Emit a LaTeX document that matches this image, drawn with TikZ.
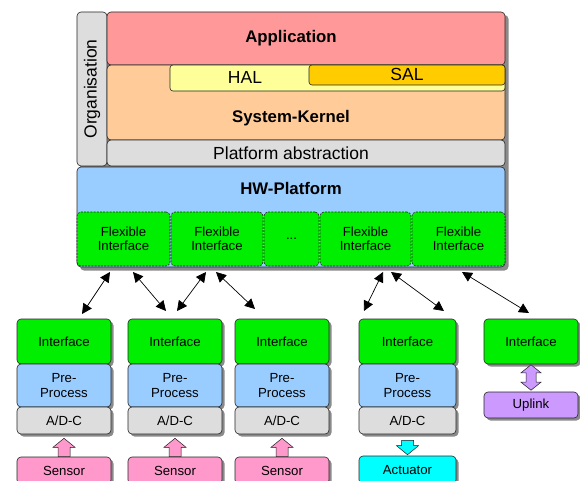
\documentclass[tikz,border=0pt]{standalone}
\usepackage{fontspec}
\setmainfont{Liberation Sans}
\usetikzlibrary{arrows.meta,calc,shadows}

\definecolor{appred}{HTML}{FF9999}
\definecolor{kernpeach}{HTML}{FFCC99}
\definecolor{halyellow}{HTML}{FFFF99}
\definecolor{salgold}{HTML}{FFCC00}
\definecolor{absgray}{HTML}{DDDDDD}
\definecolor{hwblue}{HTML}{99CCFF}
\definecolor{ifgreen}{HTML}{00EE00}
\definecolor{sensorpink}{HTML}{FF99CC}
\definecolor{actcyan}{HTML}{00FFFF}
\definecolor{uplinkviolet}{HTML}{CC99FF}
\definecolor{shadowgray}{HTML}{8A8A8A}

\newcommand\smallfont{\fontsize{13.2}{14.3}\selectfont}
\newcommand\midfont{\fontsize{17.5}{20}\selectfont}
\newcommand\bigfont{\fontsize{16.8}{20}\selectfont\bfseries}

% box node spanning (x1,y1)-(x2,y2): name, style, x1, y1, x2, y2, text
\newcommand\boxnode[7]{%
  \node[#2, minimum width={#5-#3}, minimum height={#6-#4}]
    (#1) at ({(#3+#5)/2},{(#4+#6)/2}) {#7};}

% hollow block arrow from tail to tip
\newcommand\fatarrow[3]{%
  \path[#1] let \p1=(#2), \p2=(#3), \n1={sign(\y2-\y1)} in
    ({\x1-6pt},\y1) -- ({\x2-6pt},{\y2-\n1*9pt}) -- ({\x2-11pt},{\y2-\n1*9pt})
    -- (\x2,\y2) -- ({\x2+11pt},{\y2-\n1*9pt}) -- ({\x2+6pt},{\y2-\n1*9pt})
    -- ({\x1+6pt},\y1) -- cycle;}

% hollow block arrow with a head at both ends
\newcommand\fatdouble[3]{%
  \path[#1] let \p1=(#2), \p2=(#3), \n1={sign(\y2-\y1)} in
    (\x1,\y1) -- ({\x1+10pt},{\y1+\n1*8pt}) -- ({\x1+5pt},{\y1+\n1*8pt})
    -- ({\x2+5pt},{\y2-\n1*8pt}) -- ({\x2+10pt},{\y2-\n1*8pt}) -- (\x2,\y2)
    -- ({\x2-10pt},{\y2-\n1*8pt}) -- ({\x2-5pt},{\y2-\n1*8pt})
    -- ({\x1-5pt},{\y1+\n1*8pt}) -- ({\x1-10pt},{\y1+\n1*8pt}) -- cycle;}

\tikzset{
  blk/.style={draw=black!85, line width=0.6pt, rounded corners=4pt, inner sep=0pt},
  flexbox/.style={blk, fill=ifgreen, dash pattern=on 2pt off 1.2pt,
    align=center, font=\smallfont},
  modbox/.style={blk, align=center, font=\smallfont,
    drop shadow={shadow xshift=2.5pt, shadow yshift=-2.5pt, fill=shadowgray, opacity=1}},
  link/.style={line width=0.7pt,
    {Triangle[length=10pt,width=10pt]}-{Triangle[length=10pt,width=10pt]}},
  fatshade/.style={fill=black!55, draw=none},
}

\begin{document}
\begin{tikzpicture}[x=1pt,y=-1pt]
\clip (0,0) rectangle (580,481);

% ---------- layered architecture ----------
\fill[shadowgray, rounded corners=4pt] (80,15) rectangle (508.5,270.5);
\boxnode{org}{blk,fill=absgray}{77}{12}{107}{166}{}
\boxnode{app}{blk,fill=appred}{107}{12}{505}{65}{}
\boxnode{kern}{blk,fill=kernpeach}{107}{65}{505}{140}{}
\boxnode{hal}{blk,fill=halyellow,rounded corners=3pt}{170}{65}{505}{91}{}
\boxnode{sal}{blk,fill=salgold,rounded corners=3pt}{309}{65}{505}{85}{}
\boxnode{plat}{blk,fill=absgray}{107}{140}{505}{166}{}
\boxnode{hw}{blk,fill=hwblue}{77}{167}{505}{267}{}

\node[font=\midfont, rotate=90] (orgt) at (92,89) {Organisation};
\node[font=\bigfont] (appt) at (291,38) {Application};
\node[font=\midfont] (halt) at (245,77) {HAL};
\node[font=\midfont] (salt) at (407,74) {SAL};
\node[font=\bigfont] (kernt) at (291,118) {System-Kernel};
\node[font=\midfont] (platt) at (291,153) {Platform abstraction};
\node[font=\bigfont] (hwt) at (291,188) {HW-Platform};

\boxnode{f1}{flexbox}{77}{212}{170}{266}{Flexible\\Interface}
\boxnode{f2}{flexbox}{171}{212}{263}{266}{Flexible\\Interface}
\boxnode{f3}{flexbox}{264}{212}{319}{266}{...}
\boxnode{f4}{flexbox}{320}{212}{411}{266}{Flexible\\Interface}
\boxnode{f5}{flexbox}{412}{212}{505}{266}{Flexible\\Interface}

% ---------- peripheral modules ----------
\boxnode{if1}{modbox,fill=ifgreen}{17}{319}{111}{364}{Interface}
\boxnode{pp1}{modbox,fill=hwblue}{17}{364}{111}{407}{Pre-\\Process}
\boxnode{ad1}{modbox,fill=absgray}{17}{407}{111}{434}{A/D-C}
\boxnode{se1}{modbox,fill=sensorpink}{17}{457}{111}{484}{Sensor}

\boxnode{if2}{modbox,fill=ifgreen}{128}{319}{222}{364}{Interface}
\boxnode{pp2}{modbox,fill=hwblue}{128}{364}{222}{407}{Pre-\\Process}
\boxnode{ad2}{modbox,fill=absgray}{128}{407}{222}{434}{A/D-C}
\boxnode{se2}{modbox,fill=sensorpink}{128}{457}{222}{484}{Sensor}

\boxnode{if3}{modbox,fill=ifgreen}{235}{319}{329}{364}{Interface}
\boxnode{pp3}{modbox,fill=hwblue}{235}{364}{329}{407}{Pre-\\Process}
\boxnode{ad3}{modbox,fill=absgray}{235}{407}{329}{434}{A/D-C}
\boxnode{se3}{modbox,fill=sensorpink}{235}{457}{329}{484}{Sensor}

\boxnode{if4}{modbox,fill=ifgreen}{359}{319}{456}{364}{Interface}
\boxnode{pp4}{modbox,fill=hwblue}{359}{364}{456}{407}{Pre-\\Process}
\boxnode{ad4}{modbox,fill=absgray}{359}{407}{456}{434}{A/D-C}
\boxnode{ac4}{modbox,fill=actcyan}{359}{456}{456}{484}{Actuator}

\boxnode{if5}{modbox,fill=ifgreen}{484}{319}{578}{364}{Interface}
\boxnode{up5}{modbox,fill=uplinkviolet}{484}{392}{578}{418}{Uplink}

% ---------- block arrows ----------
\foreach \k in {1,2,3}{
  \begin{scope}[xshift=1pt, yshift=-0.8pt]
    \fatarrow{fatshade}{se\k.north}{$(ad\k.south)+(0,4)$}
  \end{scope}
  \fatarrow{fill=sensorpink, draw=black!85, line width=0.5pt}{se\k.north}{$(ad\k.south)+(0,4)$}
}
\begin{scope}[xshift=1pt, yshift=-0.8pt]
  \fatarrow{fatshade}{$(ad4.south)+(0,6)$}{$(ac4.north)+(0,-1)$}
\end{scope}
\fatarrow{fill=actcyan, draw=black!85, line width=0.5pt}{$(ad4.south)+(0,6)$}{$(ac4.north)+(0,-1)$}
\begin{scope}[xshift=1pt, yshift=-0.8pt]
  \fatdouble{fatshade}{$(if5.south)+(0,0.5)$}{$(up5.north)+(0,-1.5)$}
\end{scope}
\fatdouble{fill=uplinkviolet, draw=black!85, line width=0.5pt}{$(if5.south)+(0,0.5)$}{$(up5.north)+(0,-1.5)$}

% ---------- links between platform and modules ----------
\coordinate (l1a) at (110,272); \coordinate (l1b) at (82,314);
\coordinate (l2a) at (133,272); \coordinate (l2b) at (166,311);
\coordinate (l3a) at (206,272); \coordinate (l3b) at (177,311);
\coordinate (l4a) at (216,272); \coordinate (l4b) at (255,309);
\coordinate (l5a) at (383,272); \coordinate (l5b) at (364,311);
\coordinate (l6a) at (391,272); \coordinate (l6b) at (444,311);
\coordinate (l7a) at (462,272); \coordinate (l7b) at (529,313);
\foreach \k in {1,...,7}{\draw[link] (l\k a) -- (l\k b);}
\end{tikzpicture}
\end{document}
